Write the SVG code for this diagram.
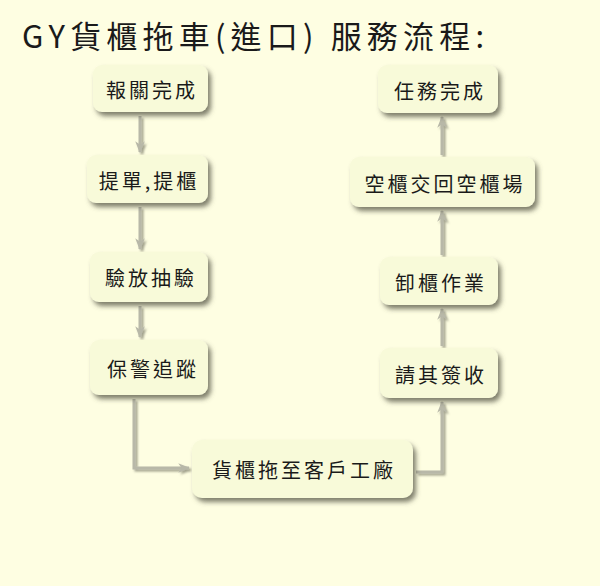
<svg xmlns="http://www.w3.org/2000/svg" width="600" height="586" viewBox="0 0 600 586">
<defs>
<filter id="sh" x="-20%" y="-20%" width="150%" height="160%">
<feDropShadow dx="3" dy="4" stdDeviation="2.5" flood-color="#555544" flood-opacity="0.75"/>
</filter>
<filter id="lsh" filterUnits="userSpaceOnUse" x="0" y="0" width="600" height="586">
<feDropShadow dx="2" dy="2" stdDeviation="1" flood-color="#666655" flood-opacity="0.6"/>
</filter>
<marker id="ah" viewBox="0 0 10 10" refX="9" refY="5" markerWidth="4" markerHeight="4" orient="auto">
<path d="M0,1 L10,5 L0,9 L3,5 Z" fill="#b8b8a8"/>
</marker>
</defs>
<style>
.node rect{fill:#f8fad9;filter:url(#sh)}
.node text{font-family:"Noto Sans CJK TC","Noto Sans CJK SC",sans-serif;font-size:20px;letter-spacing:3px;fill:#1a1a1a;text-anchor:middle;dominant-baseline:central}
.c{fill:none;stroke:#b8b8a8;stroke-width:3;marker-end:url(#ah)}
</style>
<rect x="0" y="0" width="600" height="586" fill="#fefee2"/>
<text x="22" y="48" font-family="'Noto Sans CJK TC','Noto Sans CJK SC',sans-serif" font-size="31" fill="#1a1a1a" textLength="462" lengthAdjust="spacing">GY貨櫃拖車(進口) 服務流程:</text>
<g id="connectors" filter="url(#lsh)">
<path class="c" d="M140,116 L140,152"/>
<path class="c" d="M140,207 L140,249"/>
<path class="c" d="M140,306 L140,337"/>
<path class="c" d="M134,399 L134,468 L189,468"/>
<path class="c" d="M416,472 L442,472 L442,402"/>
<path class="c" d="M442,346 L442,309"/>
<path class="c" d="M442,255 L442,211"/>
<path class="c" d="M442,155 L442,117"/>
</g>
<g id="n1" class="node"><rect x="93" y="65" width="115" height="47" rx="9"/><text x="152" y="89">報關完成</text></g>
<g id="n2" class="node"><rect x="87" y="155" width="121" height="48" rx="9"/><text x="149" y="180">提單,提櫃</text></g>
<g id="n3" class="node"><rect x="90" y="252" width="118" height="50" rx="9"/><text x="151" y="277">驗放抽驗</text></g>
<g id="n4" class="node"><rect x="90" y="340" width="118" height="55" rx="9"/><text x="153" y="368">保警追蹤</text></g>
<g id="n5" class="node"><rect x="192" y="440" width="221" height="58" rx="10"/><text x="304" y="469">貨櫃拖至客戶工廠</text></g>
<g id="n6" class="node"><rect x="380" y="348" width="118" height="50" rx="9"/><text x="441" y="374">請其簽收</text></g>
<g id="n7" class="node"><rect x="380" y="257" width="118" height="48" rx="9"/><text x="441" y="282">卸櫃作業</text></g>
<g id="n8" class="node"><rect x="350" y="157" width="185" height="50" rx="9"/><text x="445" y="183">空櫃交回空櫃場</text></g>
<g id="n9" class="node"><rect x="378" y="65" width="120" height="48" rx="9"/><text x="440" y="90">任務完成</text></g>
</svg>
